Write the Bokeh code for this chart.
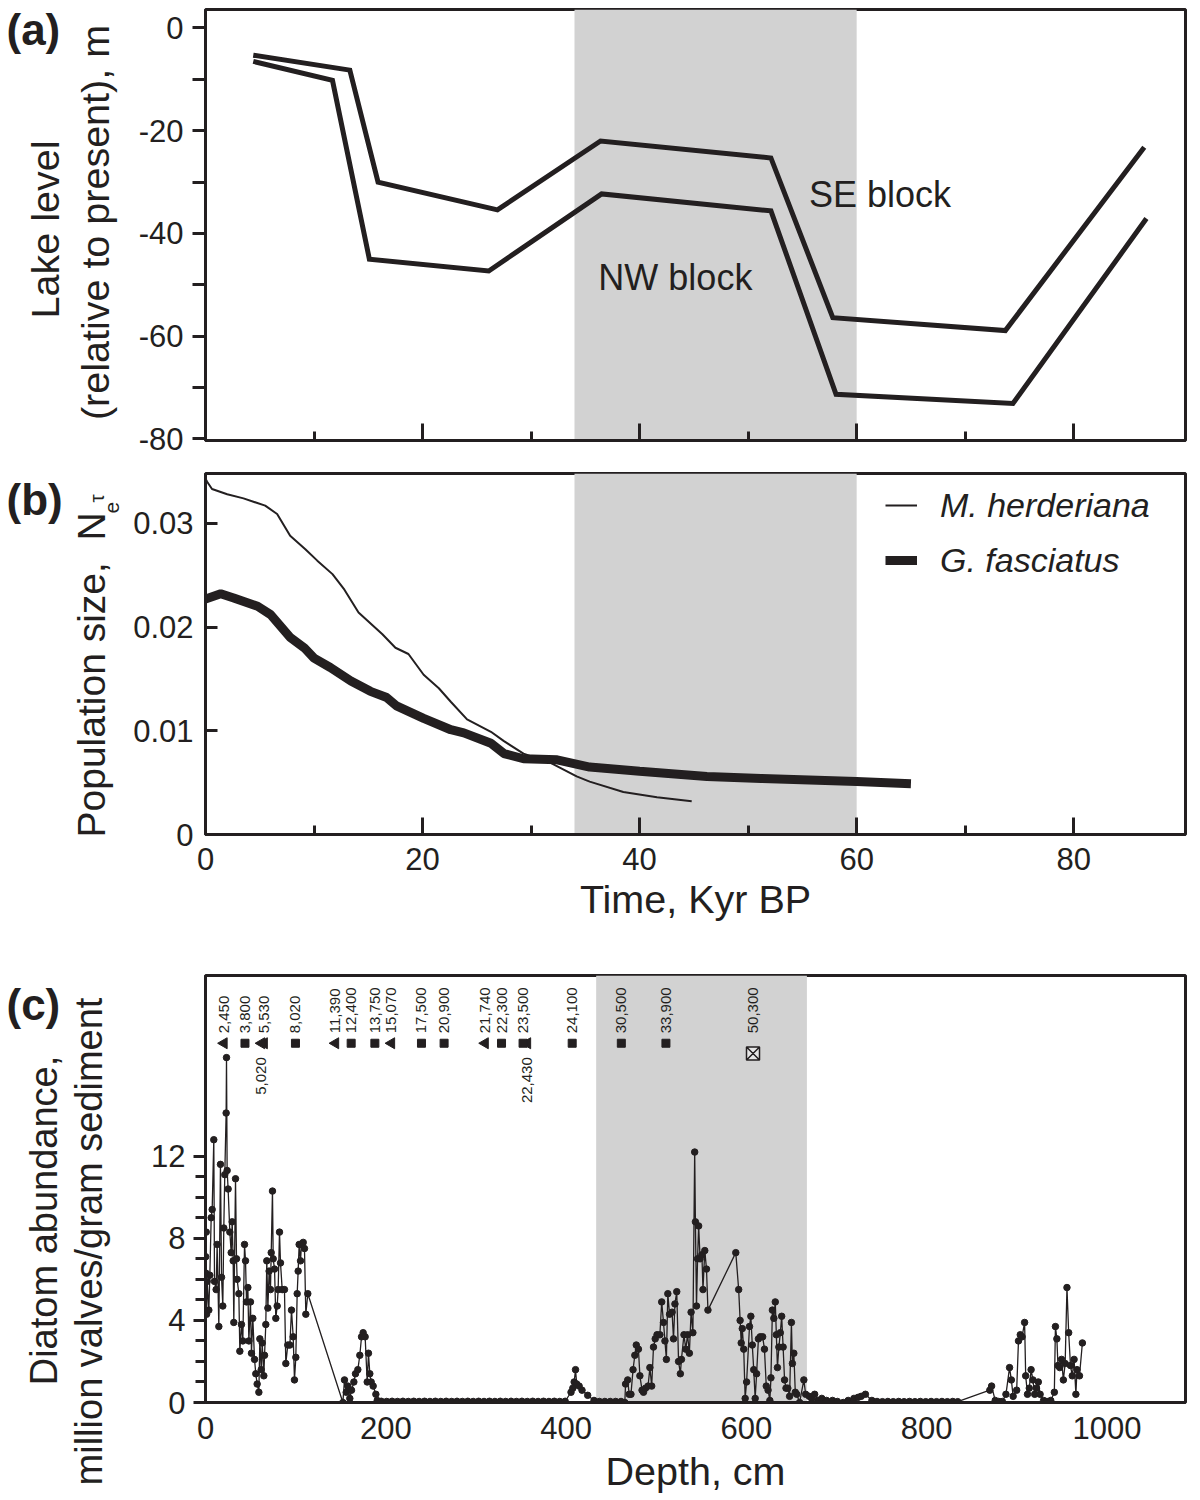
import math
from bokeh.plotting import figure
from bokeh.layouts import column, row
from bokeh.models import (BoxAnnotation, FixedTicker, Label, Legend, LegendItem,
                          Range1d, CustomJSTickFormatter)
from bokeh.embed import file_html
from bokeh.resources import INLINE
from bokeh.core.properties import value

FONT = "Liberation Sans"
INK = "#231f20"
SHADE = "#d2d2d2"

# ---------------- panel (a): lake level ----------------
kyr_se = [4.4, 13.3, 15.9, 26.9, 36.4, 52.1, 57.8, 73.7, 86.5]
level_se = [-5.3, -8.2, -30.0, -35.4, -22.0, -25.3, -56.4, -58.9, -23.2]
kyr_nw = [4.4, 11.7, 15.1, 26.1, 36.5, 52.1, 58.1, 74.4, 86.7]
level_nw = [-6.5, -10.2, -45.0, -47.3, -32.3, -35.6, -71.3, -73.1, -37.1]
shade_kyr = [34.0, 60.0]

# ---------------- panel (b): population size ----------------
kyr_mh = [0.0, 0.15, 0.6, 2.0, 3.5, 5.5, 6.6, 7.8, 9.2, 10.3, 11.7, 12.8, 14.1, 16.3,
          17.5, 18.7, 20.1, 21.5, 22.6, 24.1, 26.3, 27.5, 29.3, 31.8, 34.2, 35.4,
          38.5, 41.6, 44.8]
ne_mh = [0.0343, 0.0340, 0.0333, 0.0328, 0.0324, 0.0317, 0.0309, 0.0288, 0.0275, 0.0264,
         0.0251, 0.0236, 0.0214, 0.0193, 0.0180, 0.0174, 0.0154, 0.0141, 0.0128, 0.0111,
         0.0099, 0.0090, 0.0078, 0.0069, 0.0056, 0.0051, 0.0041, 0.0036, 0.0032]
kyr_gf = [0.0, 1.4, 2.6, 4.8, 6.0, 7.8, 9.1, 10.0, 11.5, 13.4, 15.2, 16.7, 17.6, 20.1,
          22.6, 23.8, 26.3, 27.5, 29.3, 32.4, 35.4, 40.0, 46.2, 51.2, 60.0, 65.0]
ne_gf = [0.0227, 0.0232, 0.0228, 0.0220, 0.0212, 0.0190, 0.0180, 0.0170, 0.0161, 0.0148,
         0.0138, 0.0132, 0.0124, 0.0112, 0.0101, 0.0098, 0.0088, 0.0078, 0.0073, 0.0072,
         0.0065, 0.0061, 0.0056, 0.0054, 0.0051, 0.0049]

# ---------------- panel (c): diatom abundance ----------------
depth_cm = [
    0.2, 0.5, 0.8, 1.2, 1.8, 3.7, 4.8, 6.3, 7.4, 9.2, 10.0, 11.8, 12.9, 14.8, 16.6, 17.8,
    19.2, 20.3, 21.4, 22.9, 23.3, 24.0, 25.1, 27.0, 28.5, 29.6, 30.7, 31.4, 33.3, 34.4,
    35.1, 37.0, 38.1, 39.9, 41.4, 43.3, 44.4, 45.5, 47.0, 48.1, 49.9, 51.0, 52.5, 54.4,
    55.8, 57.3, 59.2, 60.3, 61.8, 62.9, 64.7, 65.5, 66.9, 68.0, 69.2, 70.6, 72.1, 72.9,
    74.3, 75.1, 76.6, 78.0, 79.5, 80.6, 82.1, 83.2, 85.1, 87.6, 89.1, 91.3, 93.6, 95.4,
    97.3, 98.7, 100.2, 101.7, 102.8, 103.9, 105.4, 106.5, 108.4, 109.8, 111.3, 113.5,
    152.4, 154.2, 156.1, 157.9, 160.1, 162.0, 164.6, 166.4, 169.0, 171.2, 173.1, 174.9,
    177.1, 179.4, 180.8, 182.3, 183.8, 186.0, 189.0, 190.5,
    195, 201, 207, 213, 219, 225, 231, 237, 243, 249, 255, 261, 267, 273, 279, 285, 291,
    297, 303, 309, 315, 321, 327, 333, 339, 345, 351, 357, 363, 369, 375, 381, 387, 393, 399,
    405.5, 407.5, 409.0, 410.5, 411.8, 414.5, 417.7, 424.0, 431.0, 437, 443, 449, 455, 461,
    465.2, 466.0, 468.4, 470.0, 472.0, 474.3, 476.3, 477.9, 480.3, 481.9, 484.3, 485.9,
    488.2, 491.0, 493.0, 495.0, 497.0, 498.9, 500.9, 504.1, 506.1, 508.1, 509.7, 511.3,
    512.9, 514.8, 517.6, 519.2, 520.8, 522.8, 524.8, 526.8, 528.0, 530.8, 532.8, 534.8,
    536.8, 538.7, 540.7, 542.7, 543.5, 544.7, 545.9, 547.1, 548.7, 550.7, 551.9, 553.9,
    555.8, 557.4, 588.3, 591.5, 593.1, 594.3, 595.5, 597.1, 598.7, 600.3, 603.5, 605.0,
    606.6, 608.2, 609.8, 611.4, 613.4, 615.4, 618.1, 620.1, 622.1, 624.1, 626.1, 627.3,
    628.9, 630.5, 632.1, 633.3, 634.5, 636.1, 637.7, 639.2, 640.8, 642.4, 644.0, 646.0,
    648.0, 650.0, 651.1, 652.7, 654.3, 655.9, 659.1, 663.8, 665.8, 669.8, 672.5, 675.8,
    679.5, 683.7, 689.0, 695.6, 701.0, 707.5, 713.0, 719.4, 724.0, 727.4, 732.1, 739.3,
    745, 751, 757, 763, 769, 775, 781, 787, 793, 799, 805, 811, 817, 823, 829, 834.5,
    870.1, 872.1, 876.1, 880.0, 884.0, 888.0, 892.0, 894.0, 896.0, 899.9, 901.9, 903.9,
    905.9, 908.7, 909.9, 911.9, 913.9, 915.9, 917.9, 919.9, 921.9, 923.9, 925.9, 929.8,
    933.5, 937.7, 941.7, 942.9, 944.5, 945.7, 947.7, 949.7, 951.7, 953.7, 955.7, 957.6,
    959.6, 961.6, 963.6, 965.6, 966.8, 969.6, 972.8]
diatoms = [
    7.1, 6.3, 8.3, 4.3, 5.9, 4.5, 6.2, 9.0, 9.4, 12.8, 5.9, 5.5, 7.7, 3.7, 11.6, 6.1,
    4.7, 8.5, 11.1, 14.1, 16.8, 11.3, 10.4, 8.3, 7.3, 8.8, 6.9, 3.9, 10.9, 7.0,
    6.0, 5.3, 2.5, 3.8, 3.0, 7.7, 6.9, 4.9, 5.6, 3.0, 4.9, 2.4, 4.1, 2.1,
    1.4, 0.9, 0.5, 3.1, 1.6, 2.9, 1.3, 2.3, 3.8, 6.9, 4.6, 6.4, 5.5, 7.3,
    10.3, 7.0, 6.5, 4.1, 4.7, 5.5, 8.3, 6.8, 5.5, 5.5, 1.9, 2.8, 2.8, 4.5,
    3.2, 1.1, 2.2, 5.3, 6.4, 7.7, 6.9, 7.7, 7.8, 7.5, 4.3, 5.3,
    0.0, 1.1, 0.5, 0.8, 0.2, 0.6, 1.0, 1.4, 1.6, 2.3, 3.2, 3.4,
    3.2, 1.0, 2.4, 1.4, 1.0, 0.8, 0.4, 0.1,
    0.06, 0.05, 0.06, 0.05, 0.06, 0.05, 0.06, 0.05, 0.06, 0.05, 0.06, 0.05, 0.06, 0.05,
    0.06, 0.05, 0.06, 0.05, 0.06, 0.05, 0.06, 0.05, 0.06, 0.05, 0.06, 0.05, 0.06, 0.05,
    0.06, 0.05, 0.06, 0.05, 0.06, 0.05, 0.06,
    0.5, 0.7, 1.0, 1.6, 0.9, 0.8, 0.6, 0.35, 0.1, 0.05, 0.05, 0.05, 0.05, 0.05,
    0.0, 0.9, 1.1, 0.4, 0.4, 1.6, 2.3, 2.8, 2.6, 1.3, 0.6, 0.5,
    0.7, 0.8, 1.7, 0.8, 2.7, 3.1, 3.3, 3.3, 4.9, 3.9, 3.0, 2.1,
    5.3, 4.3, 4.4, 3.1, 4.8, 5.4, 2.0, 1.4, 2.1, 3.3, 2.6, 3.3,
    2.4, 4.4, 3.4, 12.2, 8.8, 4.7, 7.0, 8.6, 7.0, 7.2, 5.5, 7.4,
    6.5, 4.5, 7.3, 5.5, 4.0, 2.9, 3.6, 2.6, 0.2, 1.0, 3.7, 4.2,
    2.8, 1.6, 0.2, 1.4, 3.1, 3.2, 3.2, 2.6, 0.8, 0.6, 0.1, 1.2,
    4.5, 4.1, 4.9, 3.3, 1.7, 2.7, 3.4, 4.2, 2.7, 1.1, 0.7, 0.7,
    0.3, 3.9, 1.9, 2.4, 0.5, 0.4, 0.0, 1.1, 0.4, 0.3, 0.2, 0.4,
    0.1, 0.2, 0.1, 0.1, 0.05, 0.0, 0.1, 0.2, 0.25, 0.3, 0.4, 0.1,
    0.05, 0.04, 0.05, 0.04, 0.05, 0.04, 0.05, 0.04, 0.05, 0.04, 0.05, 0.04, 0.05, 0.04, 0.05, 0.04,
    0.6, 0.8, 0.1, 0.05, 0.05, 0.4, 1.7, 1.1, 0.3, 0.6, 3.0, 3.3,
    3.2, 3.9, 1.3, 0.4, 0.7, 1.6, 1.1, 0.4, 0.7, 1.0, 0.4, 0.1,
    0.05, 0.1, 0.5, 3.7, 3.1, 1.8, 1.7, 2.1, 1.1, 1.9, 5.6, 3.4,
    1.8, 1.3, 2.1, 0.4, 1.6, 1.3, 2.9]
shade_depth = [433.4, 667.2]

# radiocarbon dates (years BP) and their depths
date_text = ["2,450", "3,800", "5,530", "8,020", "11,390", "12,400", "13,750", "15,070",
             "17,500", "20,900", "21,740", "22,300", "23,500", "24,100", "30,500", "33,900",
             "50,300"]
date_depth = [20.5, 43.8, 65.1, 99.8, 144.2, 161.6, 187.9, 206.3, 239.6, 264.7, 310.2,
              328.4, 352.3, 406.8, 461.3, 510.8, 607.4]
date_kind = ["tri", "sq", "tri", "sq", "tri", "sq", "sq", "tri", "sq", "sq", "tri", "sq",
             "sq", "sq", "sq", "sq", "box"]
low_text = ["5,020", "22,430"]
low_depth = [62.1, 357.2]

DATE_ROW = 17.5
BOX_ROW = 17.0

LEFT_W = 125      # width of the strip that holds the rotated axis titles
MAIN_W = 1065     # width of each chart figure
H_A, H_B, H_C = 463, 477, 555


def make_fig(height, x_range, y_range, top, bottom):
    p = figure(width=MAIN_W, height=height, x_range=x_range, y_range=y_range,
               output_backend="svg", toolbar_location=None,
               min_border_left=205 - LEFT_W, min_border_right=5,
               min_border_top=top, min_border_bottom=bottom)
    p.grid.visible = False
    p.outline_line_color = INK
    p.outline_line_width = 3
    for ax in (p.xaxis[0], p.yaxis[0]):
        ax.axis_line_color = INK
        ax.axis_line_width = 3
        ax.major_tick_line_color = INK
        ax.major_tick_line_width = 3
        ax.minor_tick_line_color = INK
        ax.minor_tick_line_width = 3
        ax.major_label_text_font = FONT
        ax.major_label_text_font_size = "31px"
        ax.major_label_text_color = INK
        ax.axis_label_text_font = FONT
        ax.axis_label_text_font_size = "39.5px"
        ax.axis_label_text_font_style = "normal"
        ax.axis_label_text_color = INK
    return p


# strip on the left: plain canvas whose coordinates are page pixels (y grows downward)
total_h = H_A + H_B + H_C
strip = figure(width=LEFT_W, height=total_h, x_range=Range1d(0, LEFT_W),
               y_range=Range1d(total_h, 0), x_axis_location=None, y_axis_location=None,
               output_backend="svg", toolbar_location=None,
               min_border_left=0, min_border_right=0, min_border_top=0, min_border_bottom=0)
strip.grid.visible = False
strip.outline_line_color = None


def put(text, x, y, size="39px", align="center", style="normal", angle=math.pi / 2):
    strip.add_layout(Label(x=x, y=y, text=text, angle=angle, text_align=align,
                           text_baseline="middle", text_font=FONT, text_font_size=size,
                           text_font_style=style, text_color=INK))


# ================= (a) =================
pa = make_fig(H_A, Range1d(0, 90.3), Range1d(-80.3, 3.6), 9, 23)
pa.add_layout(BoxAnnotation(left=shade_kyr[0], right=shade_kyr[1], fill_color=SHADE,
                            fill_alpha=1, line_alpha=0, level="underlay"))
pa.line(kyr_se, level_se, line_width=5, color=INK, line_join="miter")
pa.line(kyr_nw, level_nw, line_width=5, color=INK, line_join="miter")
pa.xaxis.ticker = FixedTicker(ticks=[20, 40, 60, 80], minor_ticks=[10, 30, 50, 70])
pa.xaxis.formatter = CustomJSTickFormatter(code="return ''")
pa.xaxis.major_label_text_font_size = "1px"
pa.xaxis.major_tick_in = 17
pa.xaxis.major_tick_out = 0
pa.xaxis.minor_tick_in = 9
pa.xaxis.minor_tick_out = 0
pa.yaxis.ticker = FixedTicker(ticks=[-80, -60, -40, -20, 0], minor_ticks=[-70, -50, -30, -10])
pa.yaxis.formatter = CustomJSTickFormatter(code="return tick.toString()")
pa.yaxis.major_tick_in = 0
pa.yaxis.major_tick_out = 13
pa.yaxis.minor_tick_in = 0
pa.yaxis.minor_tick_out = 13
pa.yaxis.major_label_standoff = 9
pa.add_layout(Label(x=55.6, y=-32.5, text="SE block", text_font=FONT, text_font_size="36px",
                    text_baseline="middle", text_align="left", text_color=INK))
pa.add_layout(Label(x=36.2, y=-48.6, text="NW block", text_font=FONT, text_font_size="36px",
                    text_baseline="middle", text_align="left", text_color=INK))
put("(a)", 6, 29, size="44px", align="left", style="bold", angle=0)
put("Lake level", 44, 229, size="39.5px")
put("(relative to present), m", 94, 222, size="39.5px")

# ================= (b) =================
pb = make_fig(H_B, Range1d(0, 90.3), Range1d(0, 0.0348), 10, 106)
pb.add_layout(BoxAnnotation(left=shade_kyr[0], right=shade_kyr[1], fill_color=SHADE,
                            fill_alpha=1, line_alpha=0, level="underlay"))
r_mh = pb.line(kyr_mh, ne_mh, line_width=2, color=INK)
r_gf = pb.line(kyr_gf, ne_gf, line_width=9, color=INK)
pb.xaxis.ticker = FixedTicker(ticks=[0, 20, 40, 60, 80], minor_ticks=[10, 30, 50, 70])
pb.xaxis.major_tick_in = 17
pb.xaxis.major_tick_out = 0
pb.xaxis.minor_tick_in = 9
pb.xaxis.minor_tick_out = 0
pb.xaxis.major_label_standoff = 13
pb.xaxis.axis_label = "Time, Kyr BP"
pb.xaxis.axis_label_standoff = 4
pb.yaxis.ticker = FixedTicker(ticks=[0, 0.01, 0.02, 0.03], minor_ticks=[])
pb.yaxis.formatter = CustomJSTickFormatter(code="return tick == 0 ? '0' : tick.toFixed(2)")
pb.yaxis.major_tick_in = 12
pb.yaxis.major_tick_out = 0
pb.yaxis.major_label_standoff = 12
legend = Legend(items=[LegendItem(label="M. herderiana", renderers=[r_mh]),
                       LegendItem(label="G. fasciatus", renderers=[r_gf])],
                location=(680, 254), border_line_alpha=0, background_fill_alpha=0,
                padding=0, margin=0, label_text_font=FONT, label_text_font_style="italic",
                label_text_font_size="34px", label_text_color=INK, glyph_width=32,
                glyph_height=40, label_height=40, spacing=15, label_standoff=23)
pb.add_layout(legend)
put("(b)", 6, 499, size="44px", align="left", style="bold", angle=0)
put("Population size,\u00a0\u00a0N", 91, 837, align="left")
put("e", 111, 513, size="21px", align="left")
put("\u03c4", 96, 502, size="21px", align="left")

# ================= (c) =================
pc = make_fig(H_C, Range1d(0, 1087.2), Range1d(0, 20.8), 35, 85)
pc.add_layout(BoxAnnotation(left=shade_depth[0], right=shade_depth[1], fill_color=SHADE,
                            fill_alpha=1, line_alpha=0, level="underlay"))
pc.line(depth_cm, diatoms, line_width=1.3, color=INK)
pc.scatter(depth_cm, diatoms, size=6.5, color=INK)

tri_x = [d for d, k in zip(date_depth, date_kind) if k == "tri"] + low_depth
sq_x = [d for d, k in zip(date_depth, date_kind) if k == "sq"]
box_x = [d for d, k in zip(date_depth, date_kind) if k == "box"]
pc.scatter(tri_x, [DATE_ROW] * len(tri_x), marker="triangle", angle=math.pi / 2,
           size=11, color=INK)
pc.scatter(sq_x, [DATE_ROW] * len(sq_x), marker="square", size=8, color=INK)
pc.scatter(box_x, [BOX_ROW] * len(box_x), marker="square_x", size=13,
           fill_color="#e6e6e6", line_color=INK, line_width=1.5)
pc.text(x=date_depth, y=[DATE_ROW] * len(date_depth), text=date_text, angle=math.pi / 2,
        text_align="left", text_baseline="middle", text_font=value(FONT),
        text_font_size="15px", text_color=INK, y_offset=-10)
pc.text(x=low_depth, y=[DATE_ROW] * len(low_depth), text=low_text, angle=math.pi / 2,
        text_align="right", text_baseline="middle", text_font=value(FONT),
        text_font_size="15px", text_color=INK, y_offset=14)

pc.xaxis.ticker = FixedTicker(ticks=[0, 200, 400, 600, 800, 1000], minor_ticks=[])
pc.xaxis.major_tick_in = 0
pc.xaxis.major_tick_out = 0
pc.xaxis.major_label_standoff = 14
pc.xaxis.axis_label = "Depth, cm"
pc.xaxis.axis_label_standoff = 7
pc.yaxis.ticker = FixedTicker(ticks=[0, 4, 8, 12], minor_ticks=[1, 2, 3, 5, 6, 7, 9, 10, 11])
pc.yaxis.major_tick_in = 0
pc.yaxis.major_tick_out = 12
pc.yaxis.minor_tick_in = 0
pc.yaxis.minor_tick_out = 10
pc.yaxis.major_label_standoff = 8
put("(c)", 6, 1004, size="44px", align="left", style="bold", angle=0)
put("Diatom abundance,", 43, 1220, size="38px")
put("million valves/gram sediment", 88, 1241, size="38px")

layout = row(strip, column(pa, pb, pc, spacing=0), spacing=0)
open("out.html", "w").write(file_html(layout, INLINE))
